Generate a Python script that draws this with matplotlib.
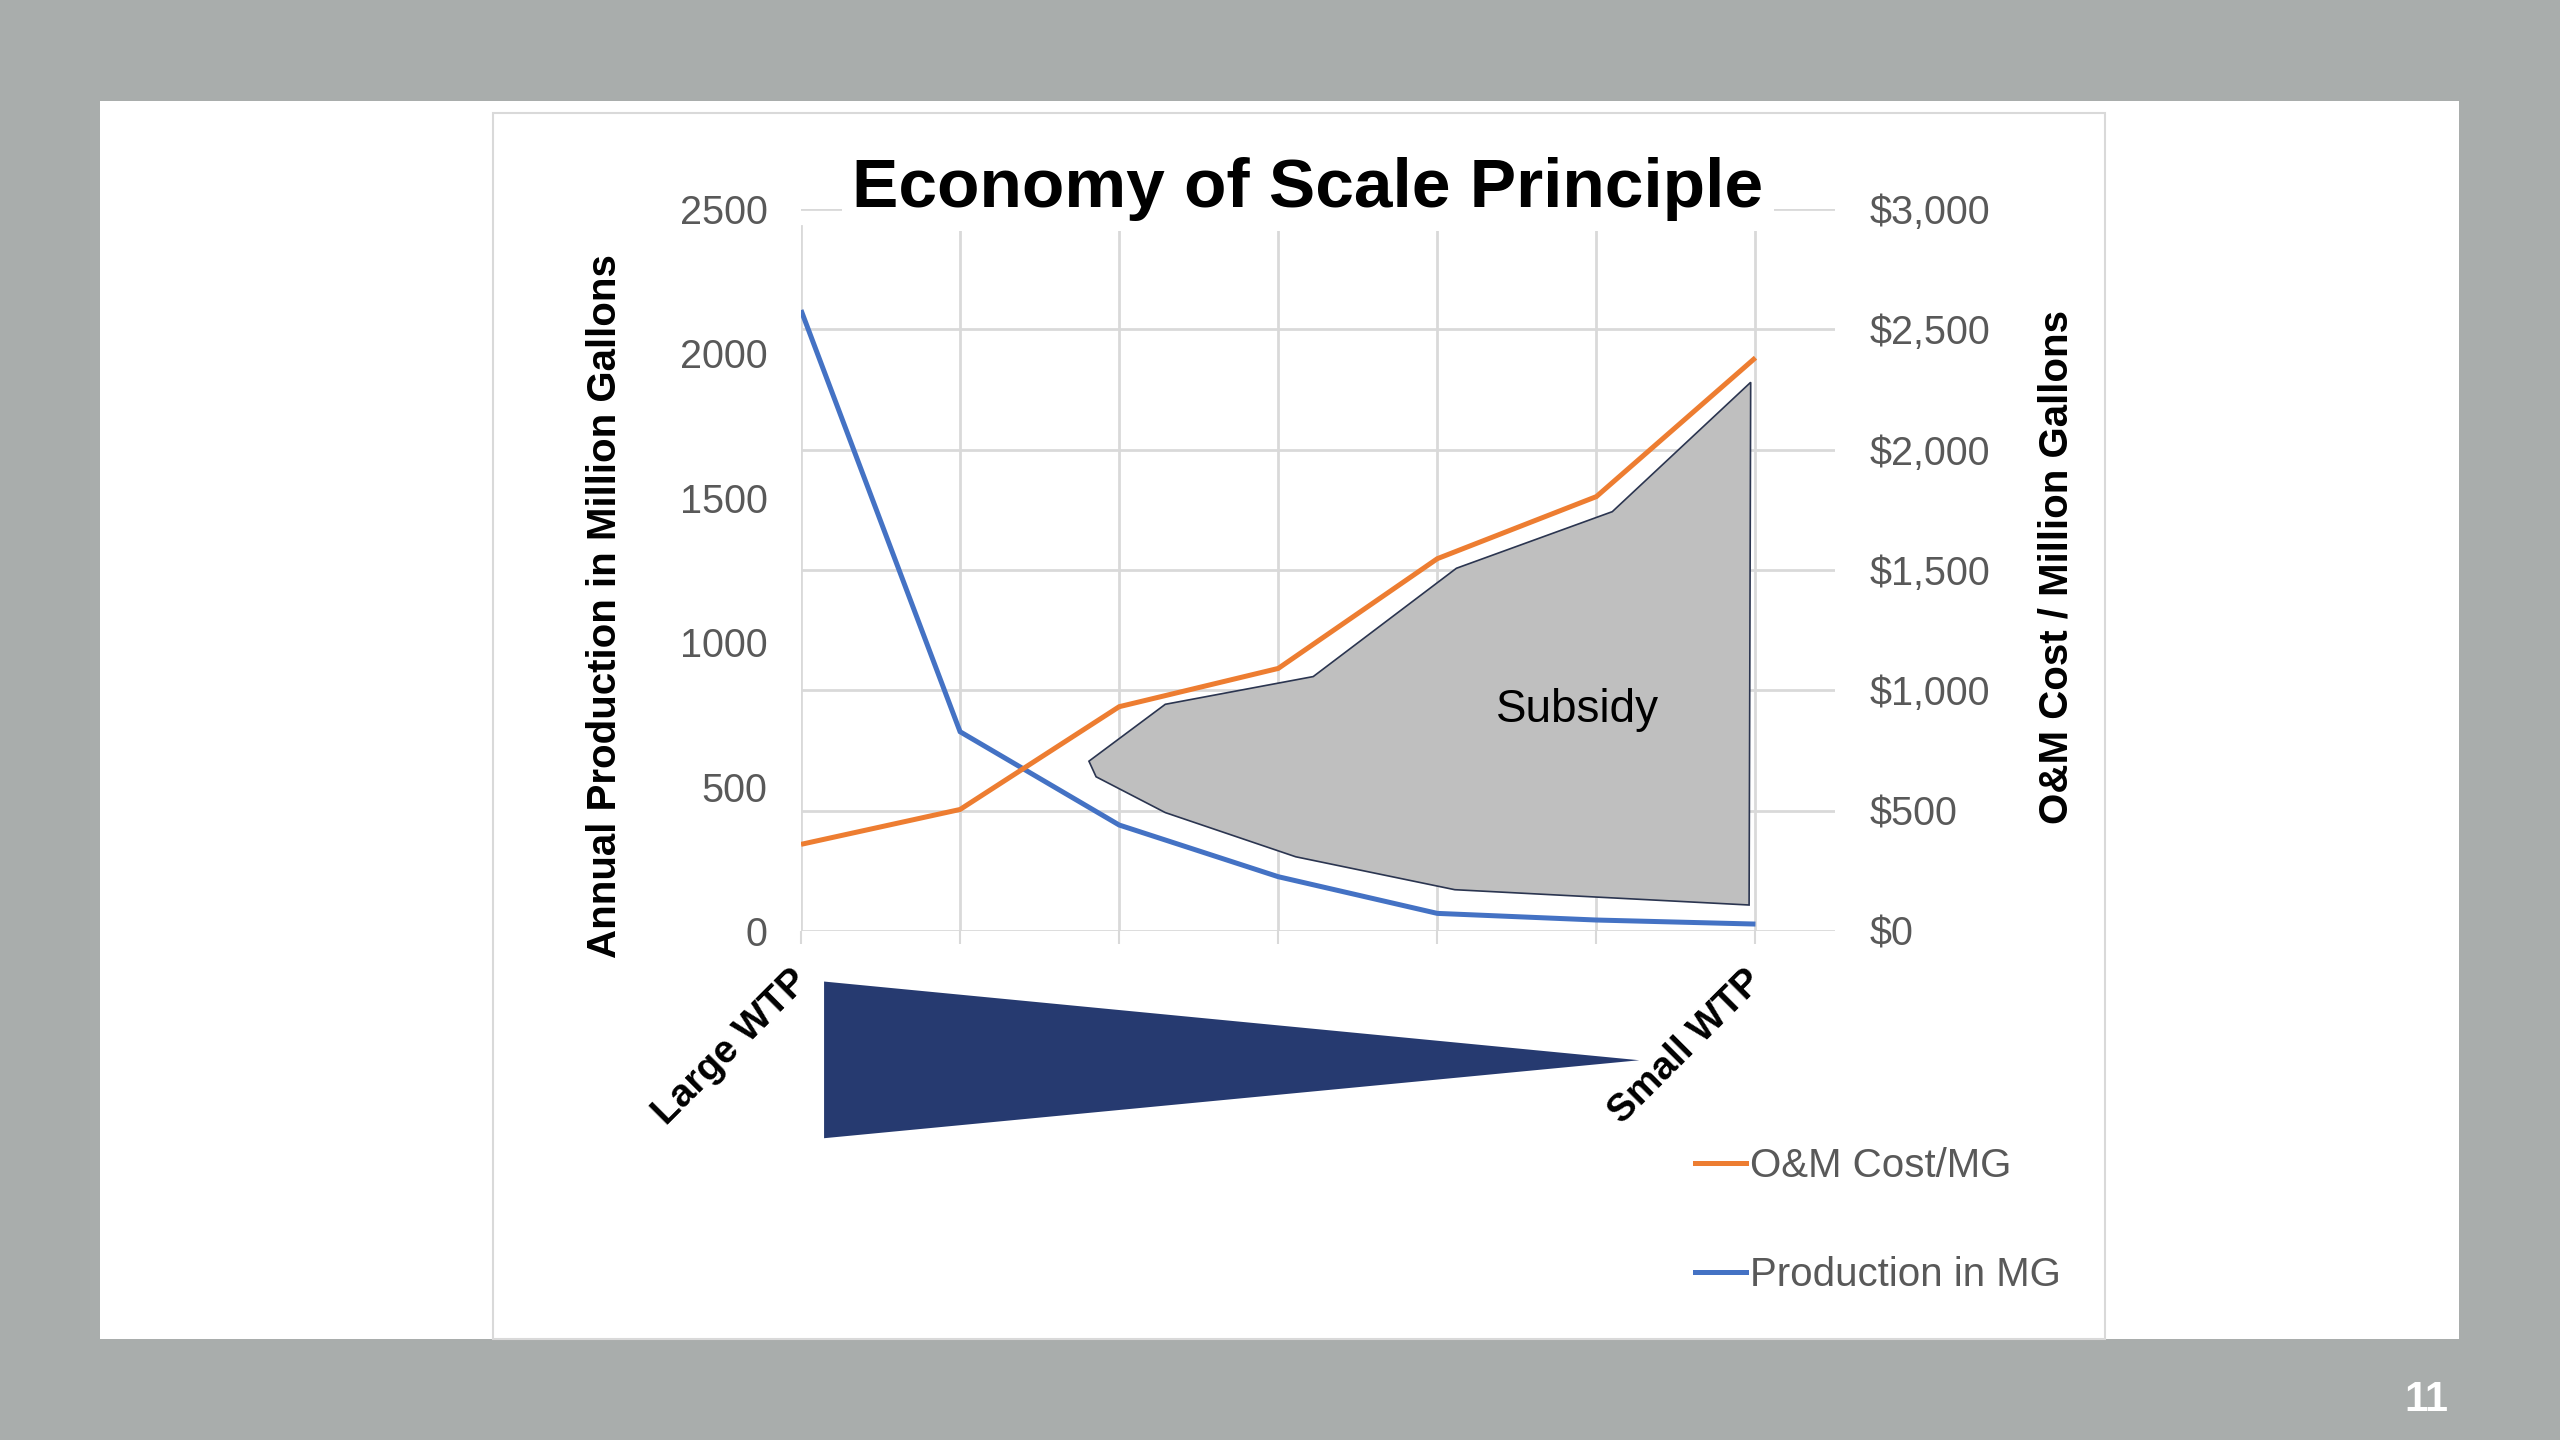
import matplotlib
matplotlib.use("Agg")
import matplotlib.pyplot as plt
from matplotlib.patches import Rectangle, Polygon
from matplotlib.lines import Line2D
from matplotlib.ticker import FuncFormatter
from matplotlib.transforms import ScaledTranslation

plt.rcParams['font.family'] = ['Liberation Sans', 'DejaVu Sans']

# data
categories = ['Large WTP', '', '', '', '', '', 'Small WTP']
production_mg = [2150, 690, 367, 188, 61, 38, 24]
om_cost = [360, 505, 932, 1091, 1547, 1805, 2382]

prod_ticks = [0, 500, 1000, 1500, 2000, 2500]
cost_ticks = [0, 500, 1000, 1500, 2000, 2500, 3000]

# hand drawn "Subsidy" shape, in category / production units
subsidy_x = [1.81, 1.855, 2.29, 3.11, 4.11, 5.96, 5.97, 5.10, 4.12, 3.22, 2.29]
subsidy_y = [588, 534, 410, 257, 143, 90, 1900, 1452, 1256, 881, 785]

ORANGE = '#ED7D31'
BLUE = '#4472C4'
GRID = '#d9d9d9'
TICK_COL = '#595959'
NAVY = '#263a70'
SLIDE_BG = '#a9adac'

W, H = 2560, 1440
fig = plt.figure(figsize=(25.6, 14.4), dpi=100)
fig.patch.set_facecolor(SLIDE_BG)


def fx(px):
    return px / W


def fy(py):
    return 1 - py / H


# white slide and chart area border
fig.patches.append(Rectangle((fx(100), fy(1339)), fx(2459) - fx(100), fy(101) - fy(1339),
                             transform=fig.transFigure, facecolor='white', edgecolor='none', zorder=-2))
fig.patches.append(Rectangle((fx(493), fy(1339)), fx(2105) - fx(493), fy(113) - fy(1339),
                             transform=fig.transFigure, facecolor='white', edgecolor=GRID,
                             linewidth=1.5, zorder=-1))

pos = [fx(801), fy(931), fx(1835) - fx(801), fy(209) - fy(931)]
xs = list(range(len(categories)))

# grid axes (follows the secondary scale)
gax = fig.add_axes(pos)
gax.set_xlim(0, 6.5)
gax.set_ylim(0, 3000)
gax.patch.set_visible(False)
for s in gax.spines.values():
    s.set_visible(False)
for v in cost_ticks:
    gax.axhline(v, color=GRID, lw=2, zorder=0)
for x in xs:
    gax.axvline(x, ymin=0, ymax=0.9765, color=GRID, lw=2, zorder=0)
gax.tick_params(bottom=False, left=False, labelbottom=False, labelleft=False)

# primary axis: production
ax = fig.add_axes(pos)
ax.patch.set_visible(False)
ax.set_xlim(0, 6.5)
ax.set_ylim(0, 2500)
ax.plot(xs, production_mg, color=BLUE, lw=3.6, solid_joinstyle='miter',
        solid_capstyle='butt', zorder=3)
ax.set_yticks(prod_ticks)
ax.tick_params(axis='y', length=0, pad=24, labelsize=28.5, labelcolor=TICK_COL)
ax.set_xticks(xs)
ax.set_xticklabels(categories, rotation=45, ha='right', va='top', rotation_mode='anchor',
                   fontsize=28, fontweight='bold')
ax.tick_params(axis='x', length=9, width=1.5, color=GRID, pad=14)
shift = ScaledTranslation(-0.11, 0.0, fig.dpi_scale_trans)
for lab in ax.get_xticklabels():
    lab.set_transform(lab.get_transform() + shift)
for s in ax.spines.values():
    s.set_visible(False)

ax.add_patch(Polygon(list(zip(subsidy_x, subsidy_y)), closed=True, facecolor='#bfbfbf',
                     edgecolor='#2b3550', linewidth=1.2, zorder=4))
ax.text(4.88, 766, 'Subsidy', fontsize=33, ha='center', va='center', color='black', zorder=5)

# navy wedge below the category axis
wedge = Polygon([(0.145, -0.070), (0.145, -0.287), (5.27, -0.179)], closed=True,
                facecolor=NAVY, edgecolor='none', clip_on=False,
                transform=ax.get_xaxis_transform())
ax.add_patch(wedge)

# secondary axis: O&M cost
ax2 = ax.twinx()
ax2.set_ylim(0, 3000)
ax2.plot(xs, om_cost, color=ORANGE, lw=3.6, solid_joinstyle='miter',
         solid_capstyle='butt', zorder=3)
ax2.set_yticks(cost_ticks)
ax2.yaxis.set_major_formatter(FuncFormatter(lambda v, p: '${:,.0f}'.format(v)))
ax2.tick_params(axis='y', length=0, pad=25, labelsize=28.5, labelcolor=TICK_COL)
for s in ax2.spines.values():
    s.set_visible(False)

# titles and axis labels
fig.text(fx(1308), fy(207), 'Economy of Scale Principle', fontsize=50, fontweight='bold',
         ha='center', va='baseline',
         bbox=dict(boxstyle='square,pad=0.15', facecolor='white', edgecolor='none'))
fig.text(fx(605), fy(606), 'Annual Production in Million Gallons', rotation=90,
         fontsize=29, fontweight='bold', ha='center', va='center')
fig.text(fx(2056), fy(567), 'O&M Cost / Million Gallons', rotation=90,
         fontsize=29, fontweight='bold', ha='center', va='center')

# legend
handles = [Line2D([], [], color=ORANGE, lw=3.6), Line2D([], [], color=BLUE, lw=3.6)]
leg = fig.legend(handles, ['O&M Cost/MG', 'Production in MG'], loc='upper left',
                 bbox_to_anchor=(fx(1695), fy(1147)), bbox_transform=fig.transFigure,
                 frameon=False, borderpad=0, borderaxespad=0, fontsize=29,
                 handlelength=1.27, handletextpad=0.1, labelspacing=1.76)
for t in leg.get_texts():
    t.set_color(TICK_COL)

# slide number
fig.text(fx(2426), fy(1400), '11', fontsize=30, fontweight='bold', color='white',
         ha='center', va='center')

fig.savefig('out.png', dpi=100, facecolor=fig.get_facecolor())
